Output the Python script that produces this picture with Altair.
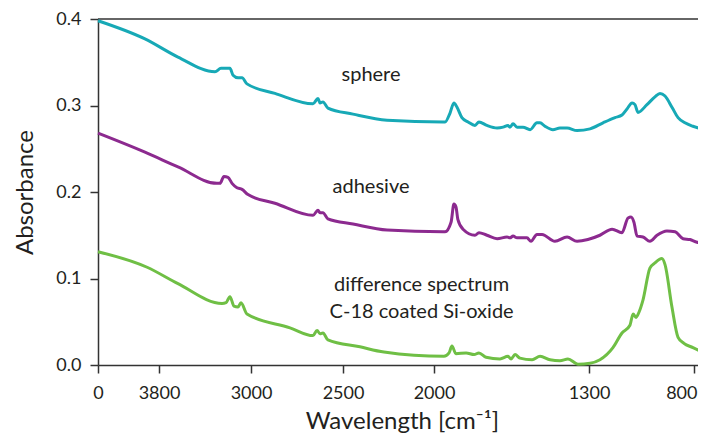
import altair as alt
import pandas as pd

# ---- data (wavenumber cm-1, absorbance) ----
sphere_wn = [4000, 3846, 3635, 3313, 3261, 3226, 3183, 3156, 3113, 3078, 3035, 2870, 2663, 2636, 2625, 2609,
             2582, 2445, 2258, 1959, 1950, 1928, 1910, 1896, 1874, 1846, 1815, 1797, 1761, 1715, 1688, 1666,
             1657, 1643, 1625, 1598, 1566, 1535, 1521, 1499, 1463, 1431, 1399, 1354, 1295, 1233, 1176, 1143,
             1119, 1095, 1081, 1067, 1024, 986, 962, 938, 905, 876, 843, 805, 748]
sphere_abs = [0.398, 0.377, 0.356, 0.339, 0.343, 0.343, 0.343, 0.335, 0.332, 0.332, 0.325, 0.314, 0.302, 0.308,
              0.303, 0.304, 0.297, 0.290, 0.283, 0.281, 0.281, 0.291, 0.303, 0.298, 0.286, 0.281, 0.277, 0.281,
              0.277, 0.274, 0.275, 0.277, 0.275, 0.279, 0.275, 0.275, 0.272, 0.280, 0.280, 0.276, 0.272, 0.274,
              0.274, 0.271, 0.273, 0.280, 0.286, 0.289, 0.296, 0.303, 0.301, 0.292, 0.301, 0.310, 0.314, 0.311,
              0.298, 0.286, 0.280, 0.276, 0.272]

adhesive_wn = [4000, 3846, 3635, 3296, 3270, 3235, 3200, 3165, 3122, 3078, 3026, 2870, 2663, 2636, 2625, 2609,
               2582, 2445, 2258, 1959, 1950, 1923, 1910, 1901, 1892, 1869, 1815, 1797, 1761, 1715, 1670, 1657,
               1643, 1625, 1580, 1562, 1535, 1512, 1454, 1399, 1354, 1305, 1248, 1190, 1143, 1114, 1100, 1086,
               1071, 1043, 1010, 976, 929, 890, 852, 819, 786, 748]
adhesive_abs = [0.268, 0.246, 0.229, 0.210, 0.210, 0.218, 0.217, 0.210, 0.205, 0.203, 0.197, 0.187, 0.173, 0.179,
                0.176, 0.176, 0.169, 0.163, 0.156, 0.154, 0.154, 0.165, 0.186, 0.183, 0.168, 0.157, 0.150, 0.153,
                0.150, 0.146, 0.148, 0.147, 0.149, 0.147, 0.147, 0.143, 0.151, 0.151, 0.143, 0.148, 0.143, 0.145,
                0.150, 0.157, 0.153, 0.170, 0.171, 0.165, 0.149, 0.148, 0.143, 0.150, 0.155, 0.154, 0.146, 0.145,
                0.142, 0.141]

diff_wn = [4000, 3839, 3635, 3252, 3217, 3183, 3148, 3113, 3087, 3035, 2788, 2663, 2641, 2625, 2609, 2582, 2407,
           2275, 1955, 1932, 1919, 1901, 1855, 1819, 1797, 1765, 1702, 1666, 1652, 1634, 1612, 1557, 1521, 1476,
           1431, 1395, 1350, 1295, 1248, 1186, 1143, 1105, 1090, 1076, 1062, 1043, 1010, 986, 953, 938, 905, 876,
           848, 805, 762, 748]
diff_abs = [0.131, 0.113, 0.094, 0.071, 0.072, 0.079, 0.068, 0.067, 0.072, 0.059, 0.043, 0.034, 0.040, 0.036,
            0.037, 0.029, 0.021, 0.015, 0.010, 0.014, 0.022, 0.013, 0.014, 0.012, 0.014, 0.009, 0.007, 0.010,
            0.007, 0.012, 0.008, 0.006, 0.010, 0.006, 0.005, 0.007, 0.001, 0.002, 0.006, 0.020, 0.037, 0.046,
            0.059, 0.055, 0.061, 0.075, 0.112, 0.118, 0.123, 0.116, 0.067, 0.032, 0.025, 0.020, 0.014, 0.010]

series_names = ["sphere", "adhesive", "difference"]
series_colors = ["#17a9b6", "#8c2a8f", "#6fbf45"]

label_text = ["sphere", "adhesive", "difference spectrum", "C-18 coated Si-oxide"]
label_wn = [2346, 2346, 2068, 2068]
label_abs = [0.335, 0.206, 0.092, 0.061]

# axis breakpoints of the (non-linear) wavenumber axis
x_breaks = [4000, 3800, 3000, 2500, 2000, 1300, 800, 743]
x_range = [0, 61, 153, 245, 336, 491, 596, 608]
x_ticks = [4000, 3800, 3000, 2500, 2000, 1300, 800]
y_ticks = [0.0, 0.1, 0.2, 0.3, 0.4]

rows = []
for name, wn, ab in [("sphere", sphere_wn, sphere_abs),
                     ("adhesive", adhesive_wn, adhesive_abs),
                     ("difference", diff_wn, diff_abs)]:
    for w, a in zip(wn, ab):
        rows.append({"series": name, "wn": w, "abs": a})
df = pd.DataFrame(rows)
labels = pd.DataFrame({"text": label_text, "wn": label_wn, "abs": label_abs})

FONT = "Lato"
TXT = "#231f20"

x_scale = alt.Scale(domain=x_breaks, range=x_range, zero=False, nice=False)
y_scale = alt.Scale(domain=[0, 0.4], zero=False, nice=False)

x_axis = alt.Axis(values=x_ticks, format="d",
                  labelExpr="datum.value == 4000 ? '0' : datum.label",
                  labelAlign={"condition": {"test": "datum.value == 800", "value": "right"}, "value": "center"},
                  labelOffset={"condition": {"test": "datum.value == 800", "value": 3}, "value": 0},
                  title="Wavelength [cm⁻¹]", labelPadding=11, titlePadding=7)
y_axis = alt.Axis(values=y_ticks, format=".1f", title="Absorbance",
                  labelPadding=9, titlePadding=18)

lines = alt.Chart(df).mark_line(strokeWidth=3, interpolate="monotone", strokeJoin="round").encode(
    x=alt.X("wn:Q", scale=x_scale, axis=x_axis),
    y=alt.Y("abs:Q", scale=y_scale, axis=y_axis),
    color=alt.Color("series:N", scale=alt.Scale(domain=series_names, range=series_colors), legend=None),
    detail="series:N",
)

top_rule = alt.Chart(pd.DataFrame({"v": [0.4]})).mark_rule(color="#333333", strokeWidth=1.5).encode(
    y=alt.Y("v:Q", scale=y_scale)
)

texts = alt.Chart(labels).mark_text(font=FONT, fontSize=20, color=TXT, align="center",
                                    baseline="middle").encode(
    x=alt.X("wn:Q", scale=x_scale),
    y=alt.Y("abs:Q", scale=y_scale),
    text="text:N",
)

chart = alt.layer(top_rule, lines, texts).properties(
    width=600, height=346,
    padding={"left": 90, "top": 11, "right": 0, "bottom": 68},
    autosize=alt.AutoSizeParams(type="none"),
).configure_view(stroke=None).configure_axis(
    grid=False,
    labelFont=FONT, titleFont=FONT,
    labelFontSize=18, titleFontSize=24, titleFontWeight="normal",
    labelColor=TXT, titleColor=TXT,
    domainColor="#333333", tickColor="#333333",
    domainWidth=1.5, tickWidth=1.5, tickSize=8,
)

chart.save("out.html", embed_options={"renderer": "svg", "actions": False})
